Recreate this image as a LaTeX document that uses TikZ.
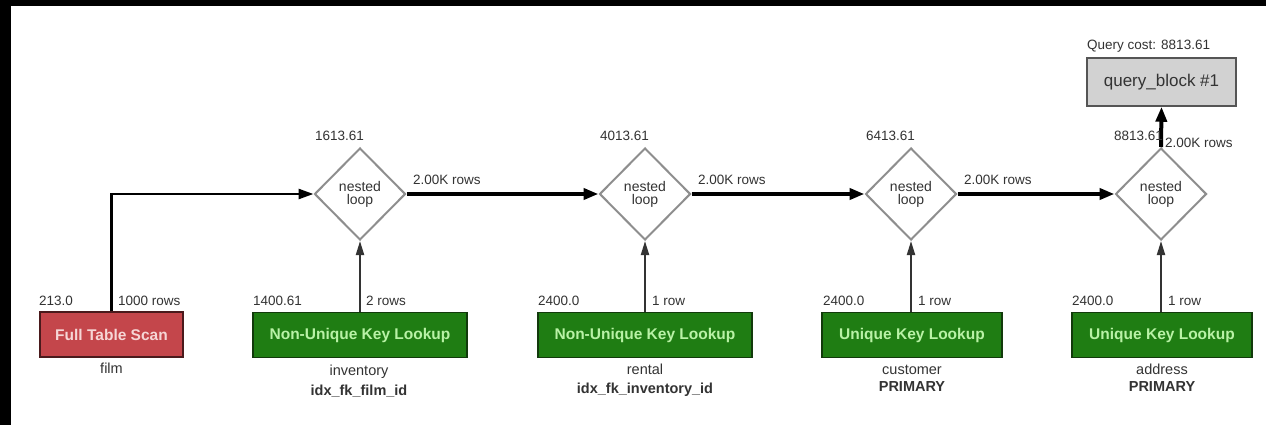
\documentclass[tikz,border=0pt]{standalone}
\usepackage{fontspec}
\setmainfont{Liberation Sans}
\usetikzlibrary{shapes.geometric,arrows.meta}
\definecolor{ftsred}{HTML}{C4464B}
\definecolor{ftsborder}{HTML}{4A1A1C}
\definecolor{ftstext}{HTML}{F6D6D6}
\definecolor{keygreen}{HTML}{1F7D13}
\definecolor{keyborder}{HTML}{123A0C}
\definecolor{keytext}{HTML}{B9F2A6}
\definecolor{labelgray}{HTML}{333333}
\definecolor{diagray}{HTML}{8E8E8E}
\definecolor{qbfill}{HTML}{D2D2D2}
\definecolor{qbborder}{HTML}{555555}
\tikzset{
  fsz/.style={font=\fontsize{#1}{#1}\selectfont},
  opbox/.style={rectangle, draw, line width=1.5pt, minimum height=45pt, inner sep=0pt, font=\fontsize{15.5}{16}\selectfont\bfseries},
  fts/.style={opbox, fill=ftsred, draw=ftsborder, text=ftstext},
  keybox/.style={opbox, fill=keygreen, draw=keyborder, text=keytext},
  nloop/.style={diamond, draw=diagray, line width=2pt, fill=white, minimum width=91pt, minimum height=92pt, inner sep=0pt, align=center, text=labelgray, font=\fontsize{14}{13}\selectfont},
  qblock/.style={rectangle, draw=qbborder, line width=1.5pt, fill=qbfill, minimum width=149pt, minimum height=48pt, inner sep=0pt, text=labelgray, font=\fontsize{17}{17}\selectfont},
  small/.style={inner sep=0pt, text=labelgray, font=\fontsize{13.5}{14}\selectfont},
  under/.style={inner sep=0pt, text=labelgray, font=\fontsize{14.5}{15}\selectfont},
  underb/.style={under, font=\fontsize{14.5}{15}\selectfont\bfseries},
  flowthick/.style={line width=4pt, -{Triangle[length=15pt,width=11pt]}},
  flowmid/.style={line width=2.6pt, -{Triangle[length=15pt,width=10pt]}},
  flowthin/.style={line width=2pt, draw=labelgray, -{Triangle[length=14pt,width=8pt]}}
}
\begin{document}
\begin{tikzpicture}[x=1pt,y=-1pt]
\useasboundingbox (0,0) rectangle (1266,425);
\fill[white] (0,0) rectangle (1266,425);
\fill[black] (0,0) rectangle (1266,6);
\fill[black] (0,0) rectangle (11,425);

% nested loops
\node[nloop] (d1) at (360,194) {nested\\loop};
\node[nloop] (d2) at (645,194) {nested\\loop};
\node[nloop] (d3) at (911,194) {nested\\loop};
\node[nloop] (d4) at (1161,194) {nested\\loop};

% query block
\node[qblock] (qb) at (1161.5,82) {query\_block \#1};

% access boxes
\node[fts, minimum width=143pt] (fts) at (111.5,334.5) {Full Table Scan};
\node[keybox, minimum width=214pt] (nu1) at (360,335) {Non-Unique Key Lookup};
\node[keybox, minimum width=214pt] (nu2) at (645,335) {Non-Unique Key Lookup};
\node[keybox, minimum width=180pt] (uk3) at (912,335) {Unique Key Lookup};
\node[keybox, minimum width=180pt] (uk4) at (1162,335) {Unique Key Lookup};

% connectors
\draw[flowmid] (fts.north) |- (d1.west);
\draw[flowthin] (nu1.north) -- (d1.south);
\draw[flowthin] (nu2.north) -- (d2.south);
\draw[flowthin] (uk3.north -| d3.south) -- (d3.south);
\draw[flowthin] (uk4.north -| d4.south) -- (d4.south);
\draw[flowthick] (d1.east) -- (d2.west);
\draw[flowthick] (d2.east) -- (d3.west);
\draw[flowthick] (d3.east) -- (d4.west);
\draw[flowthick] (d4.north) -- (qb.south);

% cost labels of loops
\node[small, anchor=base west] (c1) at (315,141) {1613.61};
\node[small, anchor=base west] (c2) at (600,141) {4013.61};
\node[small, anchor=base west] (c3) at (866,141) {6413.61};
\node[small, anchor=base west] (c4) at (1114,141) {8813.61};
\node[small, anchor=base west] (qc) at (1087,50) {Query cost: 8813.61};

% row labels between loops
\node[small, anchor=base west] (r1) at (413,184) {2.00K rows};
\node[small, anchor=base west] (r2) at (698,184) {2.00K rows};
\node[small, anchor=base west] (r3) at (964,184) {2.00K rows};
\node[small, anchor=base west] (r4) at (1165,148) {2.00K rows};

% box top labels
\node[small, anchor=base west] (b1c) at (39,305) {213.0};
\node[small, anchor=base west] (b1r) at (118,305) {1000 rows};
\node[small, anchor=base west] (b2c) at (253,305) {1400.61};
\node[small, anchor=base west] (b2r) at (366,305) {2 rows};
\node[small, anchor=base west] (b3c) at (538,305) {2400.0};
\node[small, anchor=base west] (b3r) at (652,305) {1 row};
\node[small, anchor=base west] (b4c) at (823,305) {2400.0};
\node[small, anchor=base west] (b4r) at (918,305) {1 row};
\node[small, anchor=base west] (b5c) at (1072,305) {2400.0};
\node[small, anchor=base west] (b5r) at (1168,305) {1 row};

% labels under boxes
\node[under, anchor=base] (t1) at (111.5,373) {film};
\node[under, anchor=base] (t2) at (359,375) {inventory};
\node[underb, anchor=base] (i2) at (359,395) {idx\_fk\_film\_id};
\node[under, anchor=base] (t3) at (645,374) {rental};
\node[underb, anchor=base] (i3) at (645,393) {idx\_fk\_inventory\_id};
\node[under, anchor=base] (t4) at (912,374) {customer};
\node[underb, anchor=base] (i4) at (912,391) {PRIMARY};
\node[under, anchor=base] (t5) at (1162,374) {address};
\node[underb, anchor=base] (i5) at (1162,391) {PRIMARY};
\end{tikzpicture}
\end{document}
